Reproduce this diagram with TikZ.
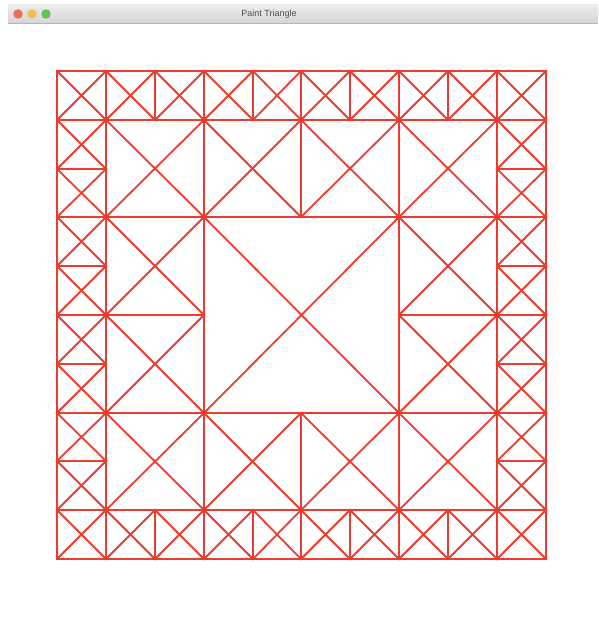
\documentclass[tikz,border=0pt]{standalone}
\usepackage{fontspec}
\setmainfont{Liberation Sans}
\definecolor{linered}{RGB}{236,60,48}
\definecolor{barTop}{RGB}{236,236,236}
\definecolor{barBot}{RGB}{214,214,214}
\definecolor{tlred}{RGB}{237,106,94}
\definecolor{tlyellow}{RGB}{245,191,79}
\definecolor{tlgreen}{RGB}{97,197,84}
\definecolor{titletext}{RGB}{77,77,77}
\tikzset{
  gridline/.style={draw=linered, line width=1.8pt, line cap=rect},
  light/.style={circle, minimum size=9.5pt, inner sep=0pt},
}
\begin{document}
\begin{tikzpicture}[x=1pt,y=1pt]
\useasboundingbox (0,0) rectangle (598,619);
\fill[white] (0,0) rectangle (598,619);
% title bar
\shade[top color=barTop, bottom color=barBot] (8,596) rectangle (598,614);
\draw[barBot!85!black, line width=0.5pt] (8,596) -- (598,596);
\node[light, fill=tlred] (close) at (18,605) {};
\node[light, fill=tlyellow] (min) at (32,605) {};
\node[light, fill=tlgreen] (max) at (46,605) {};
\node[font=\fontsize{9}{10}\selectfont, text=titletext] (title) at (269,605) {Paint Triangle};
% grid points, snapped to whole pixels
\foreach \i in {0,...,10}{
  \foreach \j in {0,...,10}{
    \pgfmathsetmacro\px{round(57+48.9*\i)}
    \pgfmathsetmacro\py{619-round(71+48.8*\j)}
    \coordinate (p-\i-\j) at (\px,\py);
  }
}
% every square is drawn with its outline and both diagonals
\foreach \i/\j/\s in {3/3/4,
    1/1/2,3/1/2,5/1/2,7/1/2,1/3/2,7/3/2,1/5/2,7/5/2,1/7/2,3/7/2,5/7/2,7/7/2,
    0/0/1,1/0/1,2/0/1,3/0/1,4/0/1,5/0/1,6/0/1,7/0/1,8/0/1,9/0/1,
    0/9/1,1/9/1,2/9/1,3/9/1,4/9/1,5/9/1,6/9/1,7/9/1,8/9/1,9/9/1,
    0/1/1,0/2/1,0/3/1,0/4/1,0/5/1,0/6/1,0/7/1,0/8/1,
    9/1/1,9/2/1,9/3/1,9/4/1,9/5/1,9/6/1,9/7/1,9/8/1}{
  \pgfmathtruncatemacro\ii{\i+\s}
  \pgfmathtruncatemacro\jj{\j+\s}
  \draw[gridline] (p-\i-\j) rectangle (p-\ii-\jj);
  \draw[gridline] (p-\i-\j) -- (p-\ii-\jj);
  \draw[gridline] (p-\ii-\j) -- (p-\i-\jj);
}
\end{tikzpicture}
\end{document}
